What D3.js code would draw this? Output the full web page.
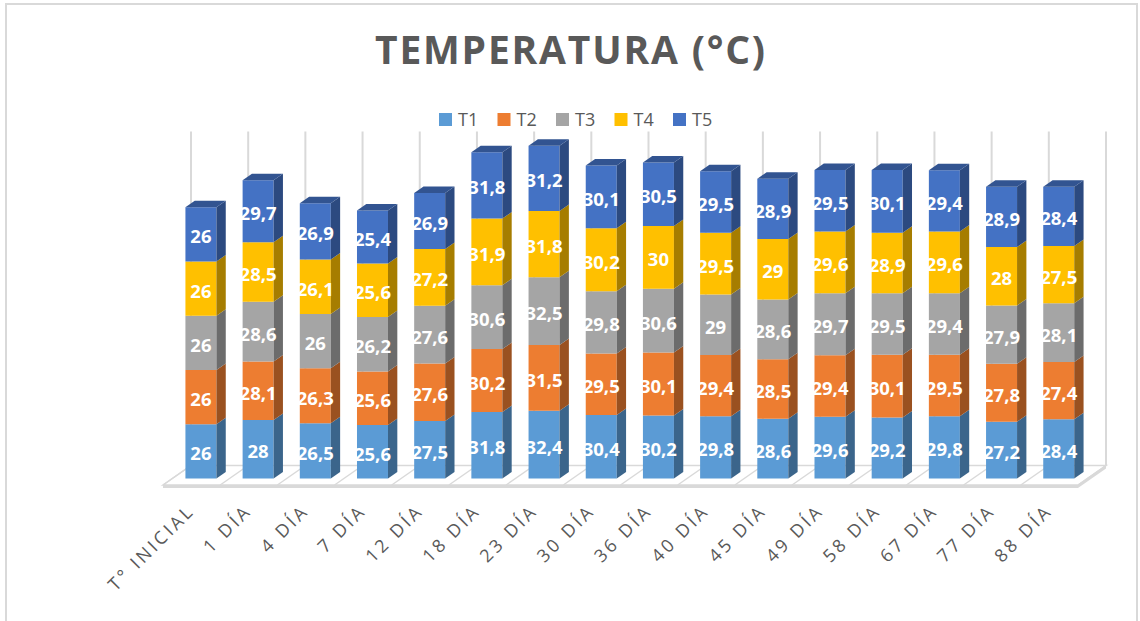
<!DOCTYPE html>
<html>
<head>
<meta charset="utf-8">
<script src="https://cdn.jsdelivr.net/npm/d3@7"></script>
<style>
  html, body { margin: 0; padding: 0; background: #ffffff; }
  svg { display: block; font-family: "Open Sans", "DejaVu Sans", sans-serif; }
</style>
</head>
<body>
<svg id="chart" width="1140" height="621"></svg>
<script>
// Sampling days
const categories = ["T° INICIAL", "1 DÍA", "4 DÍA", "7 DÍA", "12 DÍA", "18 DÍA", "23 DÍA", "30 DÍA",
  "36 DÍA", "40 DÍA", "45 DÍA", "49 DÍA", "58 DÍA", "67 DÍA", "77 DÍA", "88 DÍA"];

// Temperature (°C) per treatment
const T1 = [26, 28, 26.5, 25.6, 27.5, 31.8, 32.4, 30.4, 30.2, 29.8, 28.6, 29.6, 29.2, 29.8, 27.2, 28.4];
const T2 = [26, 28.1, 26.3, 25.6, 27.6, 30.2, 31.5, 29.5, 30.1, 29.4, 28.5, 29.4, 30.1, 29.5, 27.8, 27.4];
const T3 = [26, 28.6, 26, 26.2, 27.6, 30.6, 32.5, 29.8, 30.6, 29, 28.6, 29.7, 29.5, 29.4, 27.9, 28.1];
const T4 = [26, 28.5, 26.1, 25.6, 27.2, 31.9, 31.8, 30.2, 30, 29.5, 29, 29.6, 28.9, 29.6, 28, 27.5];
const T5 = [26, 29.7, 26.9, 25.4, 26.9, 31.8, 31.2, 30.1, 30.5, 29.5, 28.9, 29.5, 30.1, 29.4, 28.9, 28.4];

const seriesNames = ["T1", "T2", "T3", "T4", "T5"];
const seriesValues = [T1, T2, T3, T4, T5];
const seriesColors = ["#5B9BD5", "#ED7D31", "#A5A5A5", "#FFC000", "#4472C4"];

const valueMax = 160;

// Build rows for the stack layout
const rows = categories.map((c, i) => {
  const r = { cat: c };
  seriesNames.forEach((s, j) => { r[s] = seriesValues[j][i]; });
  return r;
});
const stacked = d3.stack().keys(seriesNames)(rows);

const svg = d3.select("#chart");
const textGray = "#595959";
const lineGray = "#D9D9D9";

// Chart frame
svg.append("rect")
  .attr("x", 6).attr("y", 4).attr("width", 1131).attr("height", 660)
  .attr("fill", "#ffffff").attr("stroke", lineGray).attr("stroke-width", 2);

// Oblique 3D projection: depth z in [0,1] shifts right and up
const depthDx = 28, depthDy = 19.5;
const x = d3.scaleBand().domain(categories).range([163, 1078]).padding(0);
const y = d3.scaleLinear().domain([0, valueMax]).range([485, 151]);
const proj = (px, v, z) => [px + z * depthDx, y(v) - z * depthDy];

// Floor slab
const x0 = x.range()[0], x1 = x.range()[1];
const floorTop = [proj(x0, 0, 0), proj(x0, 0, 1), proj(x1, 0, 1), proj(x1, 0, 0)];
const line = d3.line();
svg.append("path")
  .attr("d", line(floorTop) + "Z")
  .attr("fill", "#ffffff").attr("stroke", lineGray).attr("stroke-width", 1.5);
svg.append("path")
  .attr("d", line([proj(x0, 0, 0), proj(x1, 0, 0), [proj(x1, 0, 0)[0], proj(x1, 0, 0)[1] + 3],
    [proj(x0, 0, 0)[0], proj(x0, 0, 0)[1] + 3]]) + "Z")
  .attr("fill", lineGray);
svg.append("path")
  .attr("d", line([proj(x1, 0, 0), proj(x1, 0, 1), [proj(x1, 0, 1)[0], proj(x1, 0, 1)[1] + 3],
    [proj(x1, 0, 0)[0], proj(x1, 0, 0)[1] + 3]]) + "Z")
  .attr("fill", lineGray);

// Category dividers across the floor and up the back wall
const bounds = categories.map(c => x(c)).concat([x1]);
svg.append("g").selectAll("path.floorline").data(bounds).join("path")
  .attr("d", b => line([proj(b, 0, 0), proj(b, 0, 1)]))
  .attr("stroke", lineGray).attr("stroke-width", 1.5).attr("fill", "none");
svg.append("g").selectAll("path.wall").data(bounds).join("path")
  .attr("d", b => line([proj(b, 0, 1), proj(b, valueMax, 1)]))
  .attr("stroke", lineGray).attr("stroke-width", 2).attr("fill", "none");

// Bars
const barW = 31, zFront = 1 / 3, zBack = 2 / 3;
const fmt = d3.formatLocale({ decimal: ",", thousands: ".", grouping: [3], currency: ["", ""] }).format("~g");

const bars = svg.append("g");
categories.forEach((cat, i) => {
  const cx = x(cat) + x.bandwidth() / 2;
  const bx0 = cx - barW / 2, bx1 = cx + barW / 2;
  stacked.forEach((layer, j) => {
    const d = layer[i];
    const col = d3.color(seriesColors[j]);
    const g = bars.append("g");
    // front face
    g.append("path")
      .attr("d", line([proj(bx0, d[0], zFront), proj(bx1, d[0], zFront), proj(bx1, d[1], zFront), proj(bx0, d[1], zFront)]) + "Z")
      .attr("fill", col.formatHex());
    // side face
    g.append("path")
      .attr("d", line([proj(bx1, d[0], zFront), proj(bx1, d[0], zBack), proj(bx1, d[1], zBack), proj(bx1, d[1], zFront)]) + "Z")
      .attr("fill", col.darker(1.2).formatHex());
    // top face of the column
    if (j === stacked.length - 1) {
      g.append("path")
        .attr("d", line([proj(bx0, d[1], zFront), proj(bx1, d[1], zFront), proj(bx1, d[1], zBack), proj(bx0, d[1], zBack)]) + "Z")
        .attr("fill", col.darker(0.85).formatHex());
    }
  });
});

// Value labels
const labels = svg.append("g")
  .attr("font-size", 18.5).attr("font-weight", 700).attr("fill", "#ffffff").attr("text-anchor", "middle");
categories.forEach((cat, i) => {
  const cx = x(cat) + x.bandwidth() / 2;
  stacked.forEach(layer => {
    const d = layer[i];
    const p = proj(cx, (d[0] + d[1]) / 2, zFront);
    labels.append("text")
      .attr("x", p[0]).attr("y", p[1] + 9)
      .text(fmt(d.data[layer.key]));
  });
});

// Category axis labels
svg.append("g").selectAll("text").data(categories).join("text")
  .attr("transform", c => `translate(${x(c) + x.bandwidth() / 2 + 4},${512}) rotate(-45)`)
  .attr("text-anchor", "end")
  .attr("font-size", 18).attr("letter-spacing", 3)
  .attr("fill", textGray)
  .text(c => c);

// Title
svg.append("text")
  .attr("x", 375).attr("y", 64)
  .attr("font-size", 39).attr("font-weight", 700)
  .attr("fill", textGray)
  .attr("textLength", 390).attr("lengthAdjust", "spacing")
  .text("TEMPERATURA (°C)");

// Legend
const legend = svg.append("g").attr("transform", "translate(439,113)");
const item = legend.selectAll("g").data(seriesNames).join("g")
  .attr("transform", (d, i) => `translate(${i * 58.5},0)`);
item.append("rect").attr("width", 13).attr("height", 13)
  .attr("fill", (d, i) => seriesColors[i]);
item.append("text").attr("x", 19).attr("y", 13)
  .attr("font-size", 18).attr("fill", textGray)
  .text(d => d);
</script>
</body>
</html>
